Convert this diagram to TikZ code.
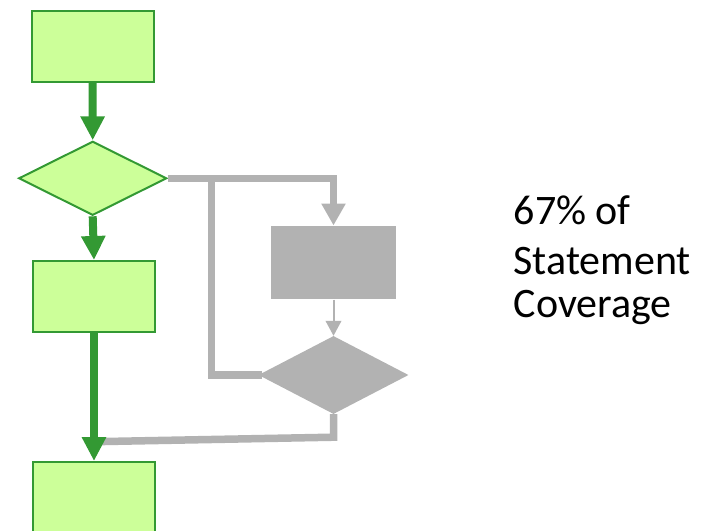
\documentclass[tikz,border=0pt]{standalone}
\usepackage{fontspec}
\setmainfont{Carlito}
\usetikzlibrary{shapes.geometric,arrows.meta}
\definecolor{stepfill}{HTML}{CCFF99}
\definecolor{stepline}{HTML}{339933}
\definecolor{skipgray}{HTML}{B2B2B2}
\tikzset{
  covbox/.style={draw=stepline,fill=stepfill,line width=2pt,inner sep=0pt,
    minimum width=122pt,minimum height=71pt},
  covdia/.style={diamond,draw=stepline,fill=stepfill,line width=2pt,inner sep=0pt,
    minimum width=148pt,minimum height=74pt},
  skipbox/.style={fill=skipgray,inner sep=0pt,minimum width=125pt,minimum height=73.6pt},
  skipdia/.style={diamond,fill=skipgray,inner sep=0pt,minimum width=150pt,minimum height=78pt},
  covflow/.style={draw=stepline,line width=8pt,-{Triangle[width=23pt,length=24pt]}},
  skipflow/.style={draw=skipgray,line width=7.5pt},
  skiparrow/.style={skipflow,-{Triangle[width=23pt,length=22pt]}},
  thinarrow/.style={draw=skipgray,line width=2pt,-{Triangle[width=15.6pt,length=15pt]}},
  covtext/.style={anchor=base west,inner sep=0pt,font=\fontsize{42}{50}\selectfont}
}
\begin{document}
\begin{tikzpicture}[x=1pt,y=-1pt]
  \useasboundingbox (0,0) rectangle (706,530);

  % executed path
  \node[covbox] (b1) at (92.5,46) {};
  \node[covdia] (d1) at (92.7,178.3) {};
  \node[covbox] (b3) at (94,296.5) {};
  \node[covbox] (b4) at (94,497.5) {};

  % branch that is never taken
  \node[skipbox] (b2) at (333.5,262.5) {};
  \node[skipdia] (d2) at (333.5,375) {};

  \coordinate (loop) at (211.5,178.3);
  \coordinate (join) at (94,441.7);

  \draw[skiparrow] (d1.east) -| (b2.north);
  \draw[skipflow,line cap=rect] (d2.west) -| (loop);
  \draw[thinarrow] (b2.south) -- (d2.north);
  \draw[skipflow] (d2.south) -- ++(0,23) -- (join);

  \draw[covflow] (b1.south) -- (d1.north);
  \draw[covflow] (d1.south) -- (b3.north);
  \draw[covflow] (b3.south) -- (b4.north);

  \node[covtext] (t1) at (513.5,224.5) {67\% of};
  \node[covtext] (t2) at (513.5,274) {Statement};
  \node[covtext] (t3) at (513.5,317) {Coverage};
\end{tikzpicture}
\end{document}
